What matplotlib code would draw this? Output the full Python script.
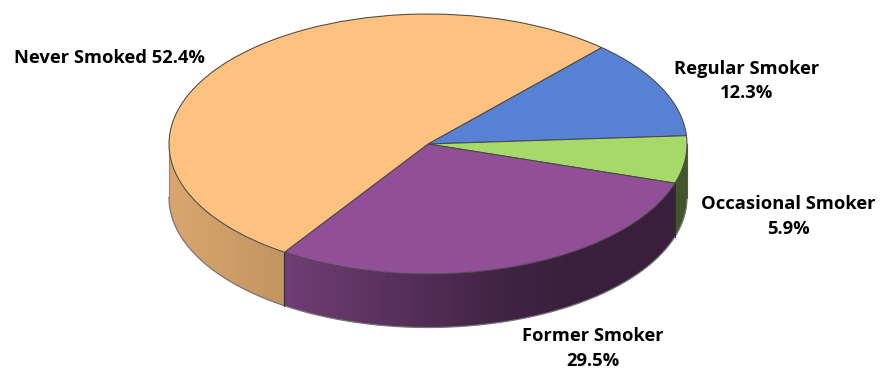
import numpy as np
import matplotlib
matplotlib.use("Agg")
import matplotlib.pyplot as plt
from matplotlib.patches import Polygon

labels = ["Regular Smoker\n12.3%", "Occasional Smoker\n5.9%", "Former Smoker\n29.5%", "Never Smoked 52.4%"]
values = [12.3, 5.9, 29.5, 52.4]
colors = ["#5681D5", "#A6D86A", "#914F98", "#FDC180"]

W, H = 884, 368
cx, cy = 428, 144
rx, ry = 259, 130
depth = 53.5 / ry
start = 47.9
label_x = [747, 788, 593, 110]
label_y = [81, 216.5, 348.5, 58]

plt.rcParams['font.family'] = ['Open Sans', 'DejaVu Sans']

fig = plt.figure(figsize=(W / 100, H / 100), dpi=100)
ax = fig.add_axes([0, 0, 1, 1])

# slice boundaries going clockwise, as pie draws them
shares = np.array(values) / sum(values)
edges = start - np.concatenate([[0], np.cumsum(shares)]) * 360


def color_at(theta):
    for i in range(len(values)):
        t = (theta - edges[i + 1]) % 360
        if t < edges[i] - edges[i + 1]:
            return np.array(matplotlib.colors.to_rgb(colors[i]))
    return np.array(matplotlib.colors.to_rgb(colors[-1]))


# side wall, shaded left to right, one image column per x
xs = np.linspace(-1, 1, 1200)
shade = np.interp(xs, [-1, -0.55, 0.28, 0.55, 1], [0.86, 0.77, 0.45, 0.4, 0.4])
img = np.array([color_at(-np.degrees(np.arccos(x))) * s for x, s in zip(xs, shade)])[None, :, :]

t = np.radians(np.linspace(-180, 0, 400))
top = np.column_stack([np.cos(t), np.sin(t)])
bottom = np.column_stack([np.cos(t), np.sin(t) - depth])
wall = Polygon(np.vstack([top, bottom[::-1]]), closed=True, transform=ax.transData, fc="none", ec="none")
ax.add_patch(wall)
im = ax.imshow(img, extent=(-1, 1, -2, 1), aspect="auto", zorder=1, interpolation="bilinear")
im.set_clip_path(wall)

ax.plot(bottom[:, 0], bottom[:, 1], color="#757575", lw=0.9, zorder=2)
ax.plot([-1, -1], [0, -depth], color="#8A8A8A", lw=0.8, zorder=2)
ax.plot([1, 1], [0, -depth], color="#555555", lw=0.8, zorder=2)
for e in edges[1:]:
    a = np.radians(e)
    if np.sin(a) < 0:
        ax.plot([np.cos(a)] * 2, [np.sin(a), np.sin(a) - depth], color="#2E2E2E", lw=0.8, zorder=2)

wedges, _ = ax.pie(values, colors=colors, startangle=start, counterclock=False,
                   wedgeprops={"edgecolor": "#484848", "linewidth": 0.75, "zorder": 3})

ax.set_aspect("auto")
ax.set_xlim(-cx / rx, (W - cx) / rx)
ax.set_ylim((cy - H) / ry, cy / ry)
ax.axis("off")

for lab, lx, ly in zip(labels, label_x, label_y):
    fig.text(lx / W, 1 - ly / H, lab, ha="center", va="center", fontsize=13.2,
             fontweight="bold", color="black", linespacing=1.45)

fig.savefig("out.png", dpi=100)
plt.close()
